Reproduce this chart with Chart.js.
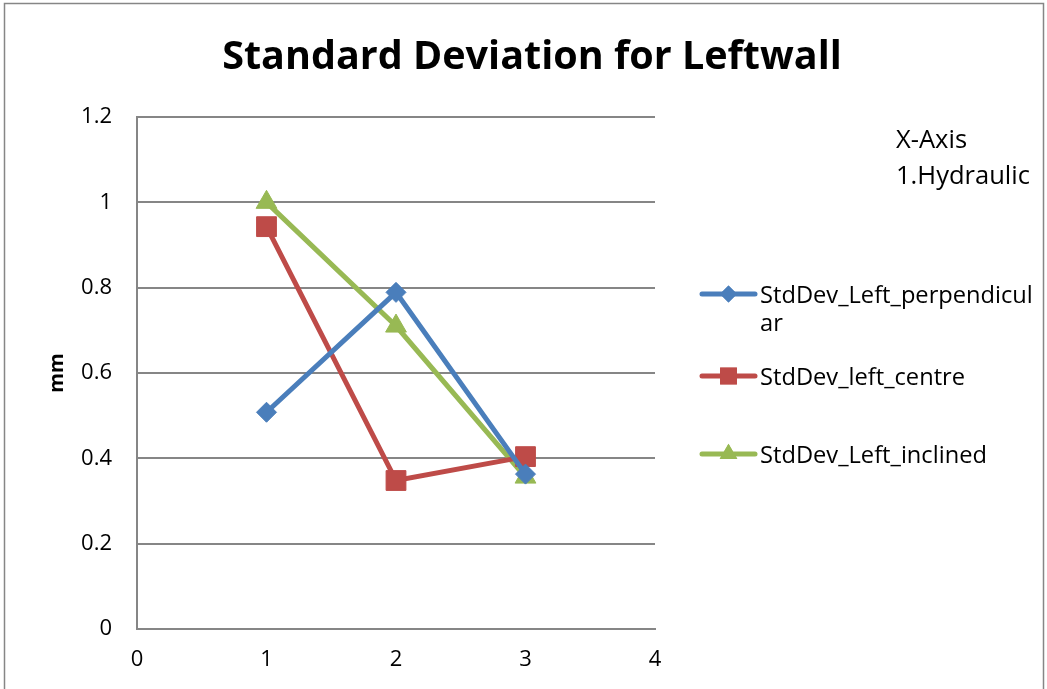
<!DOCTYPE html>
<html>
<head>
<meta charset="utf-8">
<script src="https://cdn.jsdelivr.net/npm/chart.js@4.4.1/dist/chart.umd.min.js"></script>
<style>
  html, body { margin: 0; padding: 0; background: #ffffff; }
  #wrap { width: 1047px; height: 689px; position: relative; }
</style>
</head>
<body>
<div id="wrap"><canvas id="chart" width="1047" height="689"></canvas></div>
<script>
// Measurement positions (X-Axis: 1 = Hydraulic)
const xPositions = [1, 2, 3];

// Standard deviation values in mm
const perpendicular = [0.508, 0.789, 0.363];
const centre = [0.943, 0.348, 0.404];
const inclined = [1.0, 0.71, 0.356];

const seriesNames = ['StdDev_Left_perpendicular', 'StdDev_left_centre', 'StdDev_Left_inclined'];
const seriesColors = ['#4A7EBB', '#BE4B48', '#98B954'];
const seriesMarkers = ['rectRot', 'rect', 'triangle'];
const markerRadius = [10, 14, 12];

const xTickValues = [0, 1, 2, 3, 4];
const yTickValues = [0, 0.2, 0.4, 0.6, 0.8, 1, 1.2];

const chartTitle = 'Standard Deviation for Leftwall';
const yAxisTitle = 'mm';
const noteLines = ['X-Axis', '1.Hydraulic'];

const FONT = '"Open Sans", Lato, "Liberation Sans", sans-serif';
const GRID = '#868686';

function toPoints(values) {
  return xPositions.map((x, i) => ({ x: x, y: values[i] }));
}

// font size that makes `text` span `width` pixels
function fitSize(ctx, text, width, weight) {
  ctx.font = weight + ' 100px ' + FONT;
  return 100 * width / ctx.measureText(text).width;
}

const seriesValues = [perpendicular, centre, inclined];
const datasets = seriesValues.map((vals, i) => ({
  label: seriesNames[i],
  data: toPoints(vals),
  showLine: true,
  borderColor: seriesColors[i],
  backgroundColor: seriesColors[i],
  borderWidth: 5,
  pointStyle: seriesMarkers[i],
  pointRadius: markerRadius[i],
  pointBorderWidth: 1,
  pointBorderColor: seriesColors[i],
  pointBackgroundColor: seriesColors[i],
  tension: 0
}));

// Frame, title, side note and legend drawn around the plot
const decorations = {
  id: 'decorations',
  beforeDraw(chart) {
    const ctx = chart.ctx;
    ctx.save();
    ctx.fillStyle = '#ffffff';
    ctx.fillRect(0, 0, chart.width, chart.height);
    ctx.strokeStyle = GRID;
    ctx.lineWidth = 1.5;
    ctx.strokeRect(4.5, 3.5, 1039, 720);
    ctx.restore();
  },
  afterDraw(chart) {
    const ctx = chart.ctx;
    ctx.save();
    ctx.fillStyle = '#000000';
    ctx.textBaseline = 'alphabetic';

    const titleSize = fitSize(ctx, chartTitle, 620, 'bold');
    ctx.font = 'bold ' + titleSize + 'px ' + FONT;
    ctx.textAlign = 'center';
    ctx.fillText(chartTitle, 532, 69);

    const noteSize = fitSize(ctx, noteLines[1], 134, 'normal');
    ctx.font = noteSize + 'px ' + FONT;
    ctx.textAlign = 'left';
    noteLines.forEach((t, i) => ctx.fillText(t, 896, 148 + i * 36));

    // legend
    const legendSize = fitSize(ctx, seriesNames[2], 227, 'normal');
    const rowsY = [294, 376, 454];
    const lineX0 = 702, lineX1 = 755, textX = 760, maxWidth = 282, lineH = 28;
    chart.data.datasets.forEach((ds, i) => {
      const y = rowsY[i];
      ctx.strokeStyle = ds.borderColor;
      ctx.lineWidth = 5;
      ctx.lineCap = 'round';
      ctx.beginPath();
      ctx.moveTo(lineX0, y);
      ctx.lineTo(lineX1, y);
      ctx.stroke();
      ctx.fillStyle = ds.backgroundColor;
      const r = ds.pointRadius * 0.85;
      Chart.helpers.drawPoint(ctx, { pointStyle: ds.pointStyle, radius: r, rotation: 0, borderWidth: 0 }, (lineX0 + lineX1) / 2, y);
      ctx.fill();

      // wrap label to the legend width
      ctx.fillStyle = '#000000';
      ctx.font = legendSize + 'px ' + FONT;
      const lines = [];
      let cur = '';
      for (const ch of ds.label) {
        if (ctx.measureText(cur + ch).width > maxWidth && cur) {
          lines.push(cur);
          cur = ch;
        } else {
          cur += ch;
        }
      }
      lines.push(cur);
      lines.forEach((t, k) => ctx.fillText(t, textX, y + 9 + k * lineH));
    });
    ctx.restore();
  }
};

new Chart(document.getElementById('chart'), {
  type: 'scatter',
  data: { datasets: datasets },
  plugins: [decorations],
  options: {
    responsive: false,
    animation: false,
    layout: { padding: { left: 0, top: 117, right: 392, bottom: 0 } },
    plugins: {
      legend: { display: false },
      tooltip: { enabled: false }
    },
    scales: {
      x: {
        type: 'linear',
        min: 0,
        max: 4,
        afterBuildTicks(scale) { scale.ticks = xTickValues.map(v => ({ value: v })); },
        afterFit(scale) { scale.height = 60; },
        ticks: { color: '#000000', font: { family: FONT, size: 22 }, padding: 18 },
        grid: { color: 'rgba(0,0,0,0)', drawTicks: false },
        border: { color: GRID, width: 2 }
      },
      y: {
        min: 0,
        max: 1.2,
        afterBuildTicks(scale) { scale.ticks = yTickValues.map(v => ({ value: v })); },
        afterFit(scale) { scale.width = 137; },
        ticks: {
          color: '#000000',
          font: { family: FONT, size: 22 },
          padding: 25,
          callback: v => String(Math.round(v * 10) / 10)
        },
        grid: { color: GRID, lineWidth: 2, drawTicks: false },
        border: { color: GRID, width: 2 },
        title: {
          display: true,
          text: yAxisTitle,
          color: '#000000',
          font: { family: FONT, size: 20, weight: 'bold' },
          padding: { top: 45, bottom: 0 }
        }
      }
    }
  }
});
</script>
</body>
</html>
